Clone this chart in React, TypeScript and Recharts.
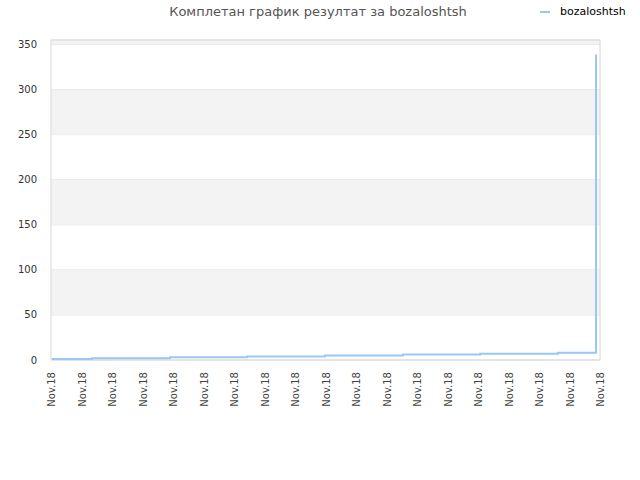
import { LineChart, Line, XAxis, YAxis, CartesianGrid, ReferenceArea } from 'recharts';

// time position (in tick units) and cumulative result
const times = [0.03, 1.34, 3.9, 6.43, 8.98, 11.54, 14.07, 16.62, 17.87, 17.87, 17.87, 17.87, 17.87, 17.87, 17.87];
const results = [1, 2, 3, 4, 5, 6, 7, 8, 23, 44, 69, 131, 204, 247, 339];

const xTicks = [0, 1, 2, 3, 4, 5, 6, 7, 8, 9, 10, 11, 12, 13, 14, 15, 16, 17, 18];
const xTickLabels = ['Nov.18', 'Nov.18', 'Nov.18', 'Nov.18', 'Nov.18', 'Nov.18', 'Nov.18', 'Nov.18', 'Nov.18', 'Nov.18',
  'Nov.18', 'Nov.18', 'Nov.18', 'Nov.18', 'Nov.18', 'Nov.18', 'Nov.18', 'Nov.18', 'Nov.18'];
const yTicks = [0, 50, 100, 150, 200, 250, 300, 350];
const grayBands = [[50, 100], [150, 200], [250, 300], [350, 355]];

const seriesName = 'bozaloshtsh';
const title = 'Комплетан график резултат за bozaloshtsh';

const data = times.map((t, i) => ({ t, value: results[i] }));

const FONT = '"DejaVu Sans", sans-serif';
const LINE_COLOR = '#99c8f5';

const XTick = ({ x, y, payload, index }: any) => (
  <g transform={`translate(${x},${y + 4})`}>
    <text transform="rotate(-90)" textAnchor="end" dy={4} fontSize={10} fill="#444" fontFamily={FONT}>
      {xTickLabels[index] ?? payload.value}
    </text>
  </g>
);

export default function App() {
  return (
    <div style={{ position: 'absolute', left: 0, top: 0, width: 640, height: 480, background: '#fff' }}>
      <div style={{ position: 'absolute', top: 4, left: 0, width: 636, textAlign: 'center', fontFamily: FONT, fontSize: 13, color: '#555' }}>
        {title}
      </div>
      <div style={{ position: 'absolute', top: 5, left: 540, display: 'flex', alignItems: 'center', fontFamily: FONT, fontSize: 11, color: '#000' }}>
        <span style={{ display: 'inline-block', width: 10, height: 2, background: LINE_COLOR, marginRight: 10 }} />
        {seriesName}
      </div>
      <LineChart width={640} height={480} data={data} margin={{ top: 40, right: 40, bottom: 60, left: 0 }}>
        {grayBands.map(([a, b], i) => (
          <ReferenceArea key={i} x1={0} x2={18} y1={a} y2={b} fill="#f3f3f3" fillOpacity={1} stroke="none" />
        ))}
        <CartesianGrid vertical={false} stroke="#e2e2e2" />
        <ReferenceArea x1={0} x2={18} y1={0} y2={355} fill="none" stroke="#d8d8d8" strokeWidth={1} />
        <XAxis
          dataKey="t"
          type="number"
          domain={[0, 18]}
          ticks={xTicks}
          interval={0}
          tick={<XTick />}
          tickLine={false}
          axisLine={false}
          height={60}
        />
        <YAxis
          type="number"
          domain={[0, 355]}
          ticks={yTicks}
          interval={0}
          width={51}
          tickLine={false}
          axisLine={false}
          tick={{ fontSize: 10, fill: '#333', fontFamily: FONT }}
          tickMargin={8}
        />
        <Line
          type="stepAfter"
          dataKey="value"
          name={seriesName}
          stroke={LINE_COLOR}
          strokeWidth={2}
          dot={false}
          isAnimationActive={false}
        />
      </LineChart>
    </div>
  );
}
